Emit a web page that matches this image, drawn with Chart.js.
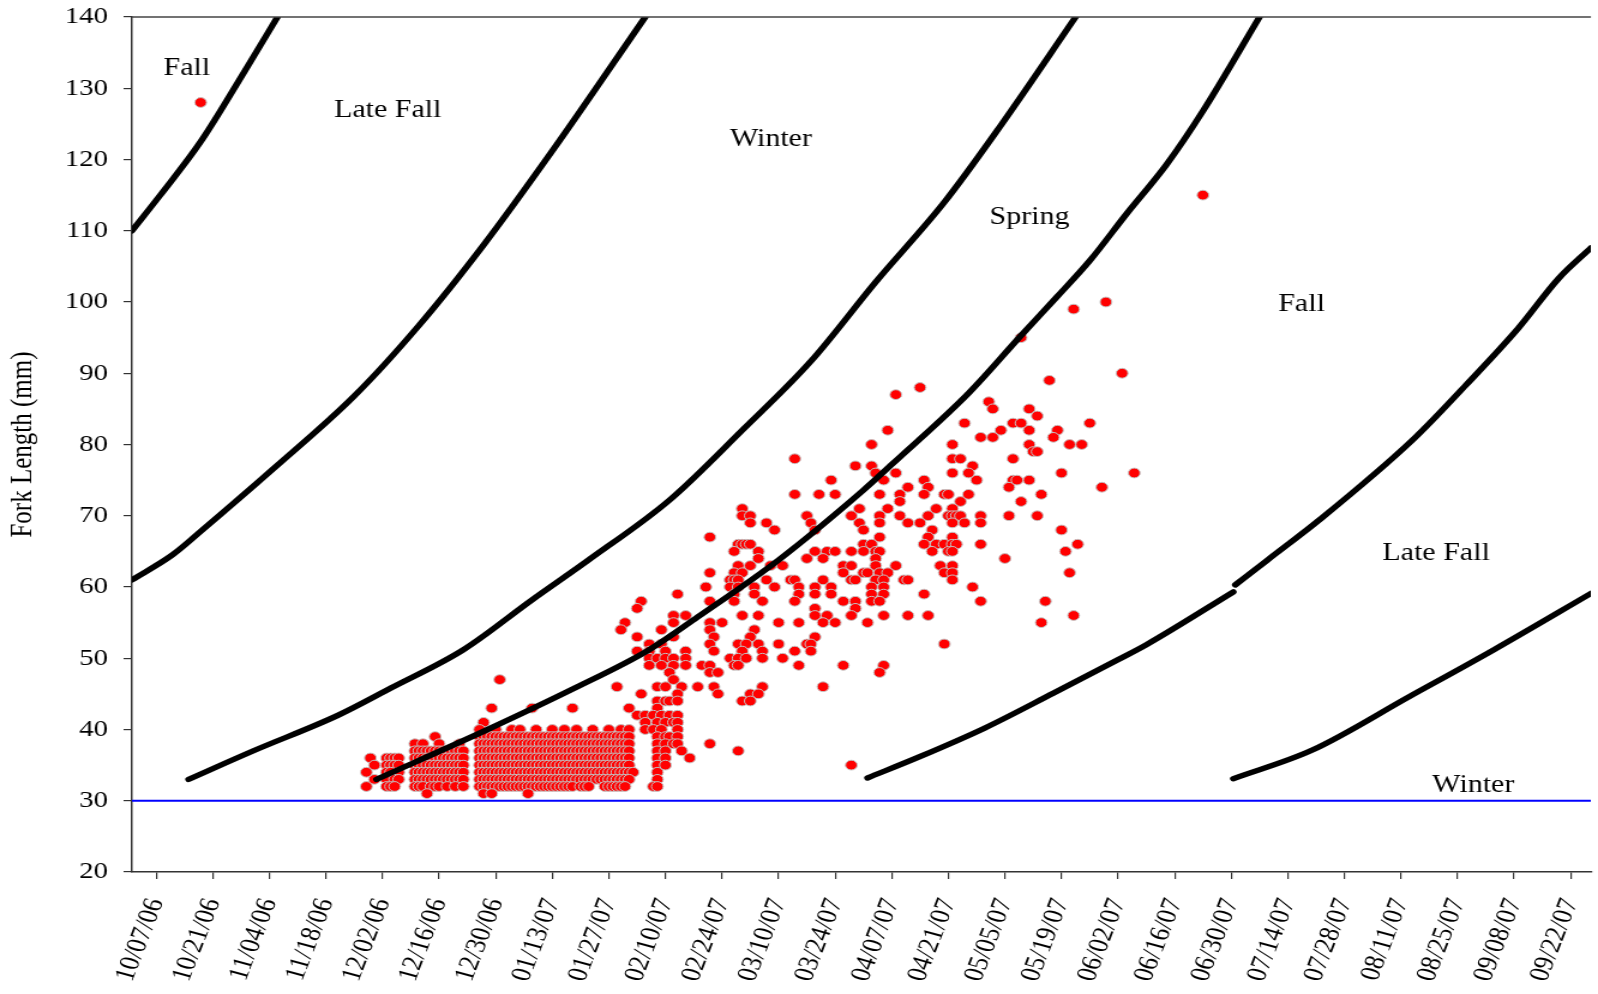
<!DOCTYPE html>
<html>
<head>
<meta charset="utf-8">
<script src="https://cdn.jsdelivr.net/npm/chart.js@4.4.1/dist/chart.umd.min.js"></script>
<style>
  html, body { margin: 0; padding: 0; background: #fff; overflow: hidden; }
  canvas { display: block; }
</style>
</head>
<body>
<!-- drawn narrow, then stretched sideways like the original export -->
<canvas id="chart_FL" width="1332" height="994" style="width:1598px;height:994px"></canvas>
<script>

// x = days since 10/01/06
const tickDays = [6, 20, 34, 48, 62, 76, 90, 104, 118, 132, 146, 160, 174, 188, 202, 216, 230, 244, 258, 272, 286, 300, 314, 328, 342, 356];
const tickLabels = ["10/07/06", "10/21/06", "11/04/06", "11/18/06", "12/02/06", "12/16/06", "12/30/06", "01/13/07", "01/27/07", "02/10/07", "02/24/07", "03/10/07", "03/24/07", "04/07/07", "04/21/07", "05/05/07", "05/19/07", "06/02/07", "06/16/07", "06/30/07", "07/14/07", "07/28/07", "08/11/07", "08/25/07", "09/08/07", "09/22/07"];

// run criteria boundaries
const fallLateFallDays = [0, 7, 17, 28, 36];
const fallLateFallFL = [110, 115, 122.5, 132.5, 140];
const lateFallWinterDays = [0, 10, 17, 35, 55, 71, 87, 104, 127];
const lateFallWinterFL = [61, 64.5, 67.8, 76.6, 86.8, 96.7, 108, 121.2, 140];
const winterSpringDays = [14, 30, 51, 64, 82, 99, 113, 133, 151, 168, 184, 201, 215, 233.5];
const winterSpringFL = [33, 37, 42, 45.8, 51.2, 58.2, 63.8, 72.2, 82, 91.7, 102.8, 114, 124.8, 140];
const springFallDays = [60.5, 88, 109.5, 128, 140, 160, 181, 188, 207, 220, 229, 237, 246, 256, 265, 279];
const springFallFL = [33, 40, 45.8, 51.2, 55.8, 63.8, 73.6, 77.2, 87.2, 95.3, 100.8, 105.8, 112.3, 119.3, 126.8, 140];
const fallLateFall2Days = [182, 195, 211, 228, 244, 251, 272.5];
const fallLateFall2FL = [33.2, 36.2, 40.2, 45.1, 49.8, 51.9, 59.3];
const fallLateFall3Days = [273, 281, 294, 317, 330, 343, 353, 361];
const fallLateFall3FL = [60.3, 63.8, 69.5, 80.7, 88.3, 96.3, 103.3, 107.6];
const lateFallWinter2Days = [272.5, 292, 316, 337, 361];
const lateFallWinter2FL = [33.1, 37.1, 44.6, 51.2, 59.1];

const minSizeDays = [0, 361];
const minSizeFL = [30, 30];

const zoneNames = ["Fall", "Late Fall", "Winter", "Spring", "Fall", "Late Fall", "Winter"];
const zoneDays = [13.6, 63.3, 158.1, 222.1, 289.4, 322.7, 331.9];
const zoneFL = [131.9, 126, 121.9, 110.9, 98.7, 63.8, 31.2];

// catch: one list of days for each fork length
const catchFL = [128, 115, 100, 99, 95, 90, 89, 88, 87, 86, 85, 84, 83, 82, 81, 80, 79, 78, 77, 76, 75, 74, 73, 72, 71, 70, 69, 68, 67, 66, 65, 64, 63, 62, 61, 60, 59, 58, 57, 56, 55, 54, 53, 52, 51, 50, 49, 48, 47, 46, 45, 44, 43, 42, 41, 40, 39, 38, 37, 36, 35, 34, 33, 32, 31];
const catchDays = [
  [17],
  [265],
  [241],
  [233],
  [220],
  [245],
  [227],
  [195],
  [189],
  [212],
  [213, 222],
  [224],
  [206, 218, 220, 237],
  [187, 215, 222, 229],
  [210, 213, 228],
  [183, 203, 222, 232, 235],
  [223, 224],
  [164, 203, 205, 218],
  [179, 183, 208],
  [184, 189, 203, 207, 230, 248],
  [173, 186, 196, 209, 218, 219, 222],
  [192, 197, 217, 240],
  [164, 170, 174, 185, 190, 196, 201, 202, 207, 225],
  [190, 205, 220],
  [151, 180, 187, 199, 203],
  [151, 153, 167, 178, 185, 190, 197, 202, 203, 204, 205, 210, 217, 224],
  [153, 157, 168, 180, 185, 192, 195, 203, 206, 210],
  [159, 169, 181, 198, 230],
  [143, 185, 197, 203],
  [150, 151, 152, 153, 181, 183, 196, 199, 201, 203, 204, 210, 234],
  [149, 155, 169, 172, 174, 178, 181, 184, 185, 198, 202, 203, 231],
  [155, 167, 171, 184, 216],
  [150, 153, 158, 161, 176, 178, 184, 189, 200, 203],
  [143, 149, 151, 176, 181, 182, 185, 187, 201, 203, 232],
  [148, 149, 150, 157, 163, 164, 171, 178, 179, 184, 186, 191, 192, 203],
  [142, 148, 150, 154, 159, 165, 169, 173, 183, 186, 208],
  [135, 149, 154, 165, 169, 173, 183, 186, 196],
  [126, 143, 149, 156, 164, 176, 179, 183, 185, 210, 226],
  [125, 169, 179],
  [134, 137, 151, 155, 169, 172, 178, 186, 192, 197, 233],
  [122, 134, 143, 146, 160, 165, 171, 174, 182, 225],
  [121, 131, 143, 154],
  [125, 134, 144, 153, 169],
  [128, 131, 143, 150, 152, 155, 160, 167, 168, 201],
  [125, 128, 132, 137, 144, 151, 156, 164, 168],
  [128, 130, 132, 134, 137, 148, 150, 152, 156, 161],
  [128, 131, 134, 137, 141, 143, 149, 150, 165, 176, 186],
  [133, 143, 145, 185],
  [91, 134],
  [120, 130, 132, 136, 140, 144, 156, 171],
  [126, 135, 145, 153, 155],
  [130, 132, 133, 135, 151, 153],
  [89, 99, 109, 123, 130],
  [125, 127, 129, 131, 133, 135],
  [87, 127, 130, 132, 134, 135],
  [86, 90, 94, 96, 100, 104, 107, 110, 114, 118, 121, 123, 127, 129, 131, 135],
  [75, 86, 87, 88, 89, 90, 91, 92, 93, 94, 95, 96, 97, 98, 99, 100, 101, 102, 103, 104, 105, 106, 107, 108, 109, 110, 111, 112, 113, 114, 115, 116, 117, 118, 119, 120, 121, 122, 123, 130, 132, 133, 135],
  [70, 72, 76, 81, 86, 87, 88, 89, 90, 91, 92, 93, 94, 95, 96, 97, 98, 99, 100, 101, 102, 103, 104, 105, 106, 107, 108, 109, 110, 111, 112, 113, 114, 115, 116, 117, 118, 119, 120, 121, 122, 123, 130, 132, 134, 135, 143],
  [70, 71, 72, 73, 74, 75, 76, 77, 78, 79, 80, 81, 82, 86, 87, 88, 89, 90, 91, 92, 93, 94, 95, 96, 97, 98, 99, 100, 101, 102, 103, 104, 105, 106, 107, 108, 109, 110, 111, 112, 113, 114, 115, 116, 117, 118, 119, 120, 121, 122, 123, 130, 132, 136, 150],
  [59, 63, 64, 65, 66, 70, 71, 72, 73, 74, 75, 76, 77, 78, 79, 80, 81, 82, 86, 87, 88, 89, 90, 91, 92, 93, 94, 95, 96, 97, 98, 99, 100, 101, 102, 103, 104, 105, 106, 107, 108, 109, 110, 111, 112, 113, 114, 115, 116, 117, 118, 119, 120, 121, 122, 123, 130, 132, 138],
  [60, 63, 64, 65, 66, 70, 71, 72, 73, 74, 75, 76, 77, 78, 79, 80, 81, 82, 86, 87, 88, 89, 90, 91, 92, 93, 94, 95, 96, 97, 98, 99, 100, 101, 102, 103, 104, 105, 106, 107, 108, 109, 110, 111, 112, 113, 114, 115, 116, 117, 118, 119, 120, 121, 122, 123, 130, 132, 178],
  [58, 63, 64, 66, 70, 71, 72, 73, 74, 75, 76, 77, 78, 79, 80, 81, 82, 86, 87, 88, 89, 90, 91, 92, 93, 94, 95, 96, 97, 98, 99, 100, 101, 102, 103, 104, 105, 106, 107, 108, 109, 110, 111, 112, 113, 114, 115, 116, 117, 118, 119, 120, 121, 122, 123, 124, 130],
  [60, 63, 65, 66, 70, 71, 72, 73, 74, 75, 76, 77, 78, 79, 80, 81, 82, 86, 87, 88, 89, 90, 91, 92, 93, 94, 95, 96, 97, 98, 99, 100, 101, 102, 103, 104, 105, 106, 107, 108, 109, 110, 111, 112, 113, 114, 115, 116, 117, 118, 119, 120, 121, 122, 123, 130],
  [58, 63, 64, 65, 70, 71, 72, 74, 75, 76, 78, 80, 82, 86, 87, 88, 89, 90, 91, 92, 93, 94, 95, 96, 97, 98, 99, 100, 101, 102, 103, 104, 105, 106, 107, 108, 109, 111, 112, 113, 117, 118, 119, 120, 121, 122, 129, 130],
  [73, 87, 89, 98]
];

const serif = '"Liberation Serif", "Times New Roman", serif';

function pts(days, fl) {
  return days.map((d, i) => ({ x: d, y: fl[i] }));
}

const catchPoints = [];
catchFL.forEach((fl, i) => {
  catchDays[i].forEach(d => catchPoints.push({ x: d, y: fl }));
});

function boundary(days, fl) {
  return {
    data: pts(days, fl),
    showLine: true,
    borderColor: "#000",
    borderWidth: 5.5,
    borderCapStyle: "round",
    borderJoinStyle: "round",
    cubicInterpolationMode: "monotone",
    pointRadius: 0,
    fill: false,
    order: 1
  };
}

const tickLabelByDay = {};
tickDays.forEach((d, i) => { tickLabelByDay[d] = tickLabels[i]; });

const zoneLabels = {
  id: "zoneLabels",
  afterDatasetsDraw(chart) {
    const { ctx, chartArea } = chart;
    const x = chart.scales.x, y = chart.scales.y;
    ctx.save();
    ctx.font = "25px " + serif;
    ctx.fillStyle = "#000";
    ctx.textAlign = "center";
    ctx.textBaseline = "alphabetic";
    zoneNames.forEach((t, i) => {
      ctx.fillText(t, x.getPixelForValue(zoneDays[i]), y.getPixelForValue(zoneFL[i]));
    });
    // top edge of plot frame
    ctx.strokeStyle = "#444";
    ctx.lineWidth = 1.5;
    ctx.beginPath();
    ctx.moveTo(chartArea.left, chartArea.top);
    ctx.lineTo(chartArea.right, chartArea.top);
    ctx.stroke();
    ctx.restore();
  }
};

const ctx_FL = document.getElementById("chart_FL").getContext("2d");

const myChart_FL = new Chart(ctx_FL, {
  type: "scatter",
  data: {
    datasets: [
      boundary(fallLateFallDays, fallLateFallFL),
      boundary(lateFallWinterDays, lateFallWinterFL),
      boundary(winterSpringDays, winterSpringFL),
      boundary(springFallDays, springFallFL),
      boundary(fallLateFall2Days, fallLateFall2FL),
      boundary(fallLateFall3Days, fallLateFall3FL),
      boundary(lateFallWinter2Days, lateFallWinter2FL),
      {
        data: pts(minSizeDays, minSizeFL),
        showLine: true,
        borderColor: "#0000ff",
        borderWidth: 2,
        pointRadius: 0,
        fill: false,
        order: 3
      },
      {
        data: catchPoints,
        showLine: false,
        pointRadius: 4.9,
        pointBackgroundColor: "#ff0000",
        pointBorderColor: "#c4c4c4",
        pointBorderWidth: 1,
        order: 2
      }
    ]
  },
  options: {
    responsive: false,
    animation: false,
    devicePixelRatio: 1,
    layout: { padding: { top: 17, right: 0, bottom: 0, left: 0 } },
    plugins: {
      legend: { display: false },
      tooltip: { enabled: false }
    },
    scales: {
      x: {
        type: "linear",
        min: 0,
        max: 361,
        afterBuildTicks(axis) {
          axis.ticks = tickDays.map(v => ({ value: v }));
        },
        afterFit(axis) {
          axis.height = 122;
          axis.paddingLeft = 0;
          axis.paddingRight = 0;
        },
        ticks: {
          autoSkip: false,
          minRotation: 72,
          maxRotation: 72,
          padding: 16,
          color: "#000",
          font: { family: serif, size: 24 },
          callback: v => tickLabelByDay[v]
        },
        grid: { drawOnChartArea: false, tickLength: 7, color: "#333", lineWidth: 1.2 },
        border: { color: "#333", width: 1.5 }
      },
      y: {
        min: 20,
        max: 140,
        afterFit(axis) {
          axis.width = 110;
          axis.paddingTop = 0;
          axis.paddingBottom = 0;
        },
        ticks: {
          stepSize: 10,
          padding: 13,
          color: "#000",
          font: { family: serif, size: 24 }
        },
        title: {
          display: true,
          text: "Fork Length (mm)",
          color: "#000",
          font: { family: serif, size: 25 },
          padding: { top: 4, bottom: 0 }
        },
        grid: { drawOnChartArea: false, tickLength: 7, color: "#333", lineWidth: 1.2 },
        border: { color: "#333", width: 1.5 }
      }
    }
  },
  plugins: [zoneLabels]
});
</script>
</body>
</html>
